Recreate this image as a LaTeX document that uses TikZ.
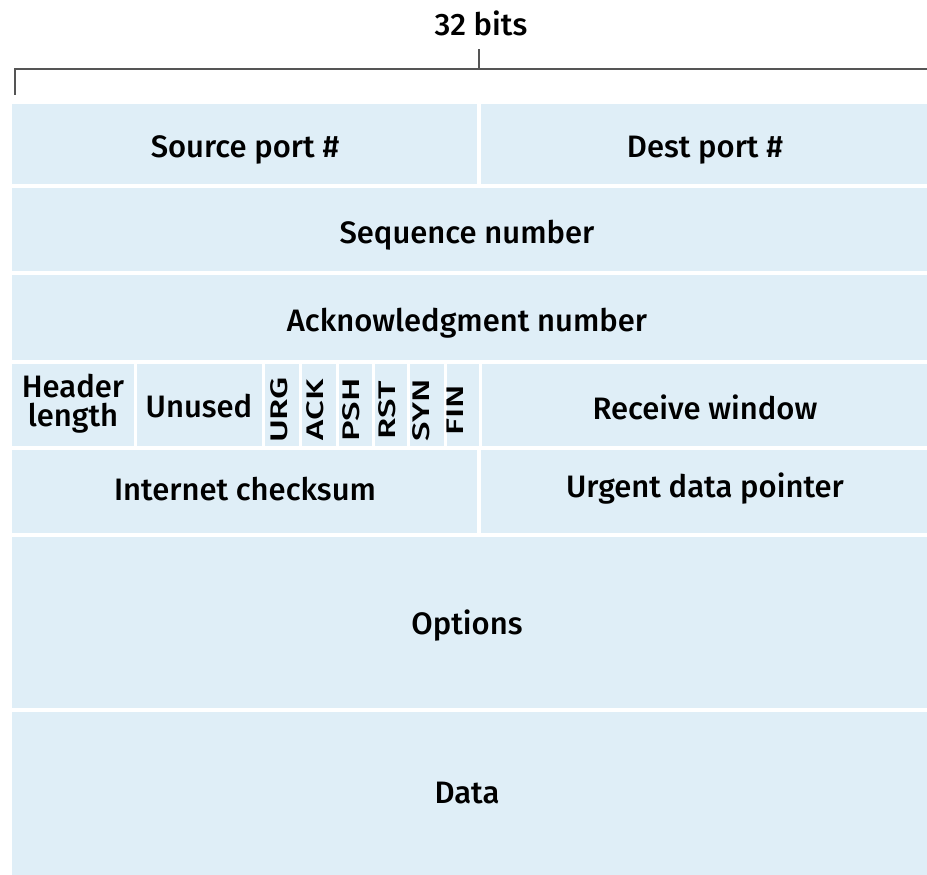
\documentclass[tikz,border=0pt]{standalone}
\usepackage{fontspec}
\setmainfont{Fira Sans}[UprightFont = * Medium]
\definecolor{cell}{RGB}{223, 238, 247}
\definecolor{rule}{RGB}{85, 85, 85}

\begin{document}
\begin{tikzpicture}[x=1pt, y=-1pt,
    field/.style={font=\fontsize{31}{29}\selectfont, inner sep=0pt, align=center},
    flag/.style={font=\fontsize{24}{24}\selectfont, inner sep=0pt, rotate=90}]

  \useasboundingbox (0,0) rectangle (927,875);

  % header cells
  \fill[cell] (12,104) rectangle (927,875);
  \foreach \y in {186, 273, 362, 448, 535, 710} {
    \draw[white, line width=4pt] (12,\y) -- (927,\y);
  }
  \draw[white, line width=4pt] (479,104) -- (479,186);
  \draw[white, line width=4pt] (479,448) -- (479,535);
  \foreach \x in {135, 263, 300, 337, 373, 408, 445, 480} {
    \draw[white, line width=3pt] (\x,362) -- (\x,448);
  }

  % width bracket
  \coordinate (bl) at (15,95);
  \coordinate (bc) at (479,69);
  \draw[rule, line width=1.2pt] (bl) |- (927,69);
  \draw[rule, line width=1.2pt] (bc) -- ++(0,-20);
  \node[field, anchor=base] (bits) at (481,36) {32 bits};

  % fields
  \node[field] (src) at (245,150) {Source port \#};
  \node[field] (dst) at (705,150) {Dest port \#};
  \node[field] (seq) at (467,235) {Sequence number};
  \node[field] (ack) at (467,323) {Acknowledgment number};
  \node[field] (hlen) at (73,404) {Header\\length};
  \node[field] (unused) at (199,406) {Unused};
  \foreach \name/\x in {URG/279, ACK/315, PSH/351, RST/387, SYN/421, FIN/455} {
    \node[flag] (f\name) at (\x,410) {\scalebox{1.45}[1]{\name}};
  }
  \node[field] (rwnd) at (705,407) {Receive window};
  \node[field] (csum) at (245,489) {Internet checksum};
  \node[field] (urgptr) at (705,489) {Urgent data pointer};
  \node[field] (opts) at (467,626) {Options};
  \node[field] (data) at (467,793) {Data};

\end{tikzpicture}
\end{document}
